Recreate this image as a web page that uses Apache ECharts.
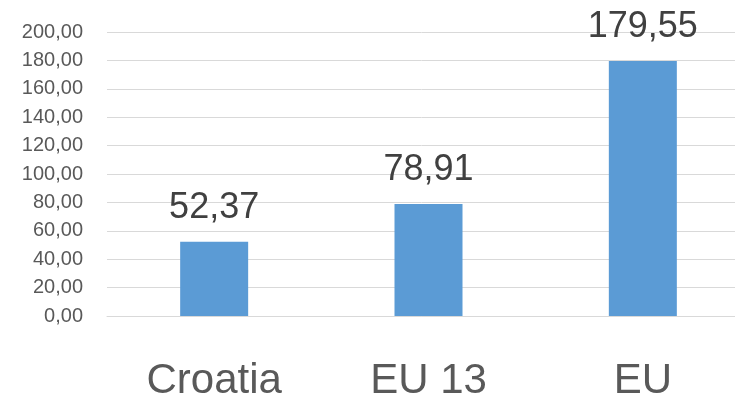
<!DOCTYPE html>
<html lang="en">
<head>
    <meta charset="UTF-8" />
    <title>Croatia / EU 13 / EU</title>
    <script src="https://cdn.jsdelivr.net/npm/echarts@6/dist/echarts.min.js"></script>
    <style>
        html, body { margin: 0; padding: 0; background: #ffffff; }
        #main { width: 735px; height: 401px; }
    </style>
</head>
<body>
    <div id="main"></div>
    <script type="text/javascript">
        // data
        var categories = ['Croatia', 'EU 13', 'EU'];
        var values = [52.37, 78.91, 179.55];

        function comma(v, digits) {
            return v.toFixed(digits).replace('.', ',');
        }

        var myChart = echarts.init(document.getElementById('main'));
        var option = {
            animation: false,
            textStyle: { fontFamily: 'Liberation Sans' },
            grid: {
                left: 107,
                top: 32,
                width: 643,
                height: 284,
                outerBoundsMode: 'none',
                containLabel: false
            },
            xAxis: {
                type: 'category',
                data: categories,
                axisTick: { show: false },
                axisLine: { lineStyle: { color: '#d9d9d9', width: 1 } },
                axisLabel: {
                    color: '#595959',
                    fontSize: 42,
                    margin: 44
                }
            },
            yAxis: {
                type: 'value',
                min: 0,
                max: 200,
                interval: 20,
                axisLine: { show: false },
                axisTick: { show: false },
                splitLine: { lineStyle: { color: '#d9d9d9', width: 1 } },
                axisLabel: {
                    color: '#595959',
                    fontSize: 20,
                    margin: 24,
                    formatter: function (v) { return comma(v, 2); }
                }
            },
            series: [
                {
                    type: 'bar',
                    data: values,
                    barWidth: 68,
                    itemStyle: { color: '#5b9bd5' },
                    label: {
                        show: true,
                        position: 'top',
                        distance: 16,
                        color: '#404040',
                        fontSize: 36,
                        formatter: function (p) { return comma(p.value, 2); }
                    }
                }
            ]
        };
        option && myChart.setOption(option);
    </script>
</body>
</html>
